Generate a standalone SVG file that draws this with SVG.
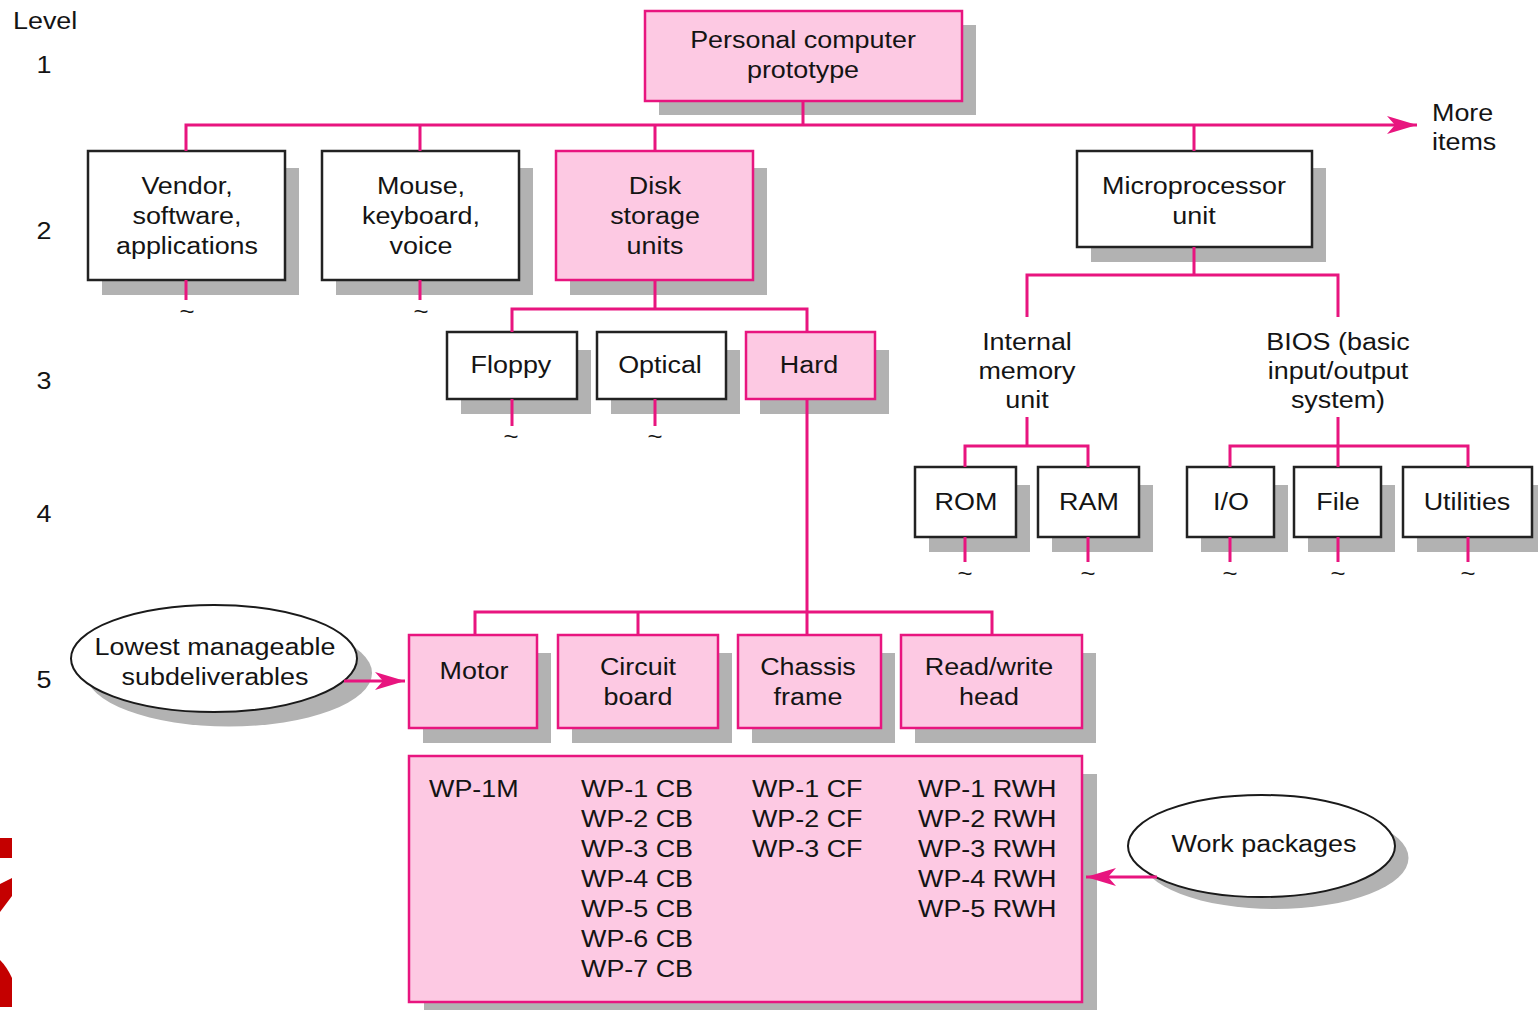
<svg xmlns="http://www.w3.org/2000/svg" width="1538" height="1010" viewBox="0 0 1538 1010">
<style>
.sh{fill:#b2b2b2}
.w{fill:#ffffff;stroke:#222222;stroke-width:2.5}
.p{fill:#fdc9e3;stroke:#e8157f;stroke-width:2.5}
.el{fill:#ffffff;stroke:#1a1a1a;stroke-width:2}
.ln{fill:none;stroke:#e8157f;stroke-width:3}
text{font-family:"Liberation Sans",Arial,Helvetica,sans-serif;font-size:23px;fill:#141414;text-anchor:middle;transform-box:fill-box;transform-origin:center;transform:scaleX(1.17)}
text.l{text-anchor:start;transform-origin:left center}
text.tl{font-size:22px}
</style>
<defs>
<marker id="arr" markerUnits="userSpaceOnUse" viewBox="0 0 30 18" refX="30" refY="9" markerWidth="30" markerHeight="18" orient="auto">
<path d="M0,0 L30,9 L0,18 L8,9 Z" fill="#e8157f"/>
</marker>
</defs>
<rect width="1538" height="1010" fill="#ffffff"/>

<g id="levels">
<text class="l" x="13" y="29">Level</text>
<text x="44" y="73">1</text>
<text x="44" y="239">2</text>
<text x="44" y="389">3</text>
<text x="44" y="522">4</text>
<text x="44" y="688">5</text>
</g>

<g id="logo-fragment" fill="#c40000">
<rect x="0" y="838" width="12" height="20"/>
<path d="M0,884 L12,878 L12,896 Q6,904 0,912 Z"/>
<path d="M0,960 Q7,967 12,978 L12,1007 L0,1007 Z"/>
</g>

<g id="tildes">
<text class="tl" x="187" y="319">~</text>
<text class="tl" x="421" y="319">~</text>
<text class="tl" x="511" y="444">~</text>
<text class="tl" x="655" y="444">~</text>
<text class="tl" x="965" y="581">~</text>
<text class="tl" x="1088" y="581">~</text>
<text class="tl" x="1230" y="581">~</text>
<text class="tl" x="1338" y="581">~</text>
<text class="tl" x="1468" y="581">~</text>
</g>

<g id="more-items">
<text class="l" x="1432" y="121">More</text>
<text class="l" x="1432" y="150">items</text>
</g>

<g id="n-pc">
<rect class="sh" x="659" y="25" width="317" height="90"/>
<rect class="p" x="645" y="11" width="317" height="90"/>
<text x="803" y="48">Personal computer</text>
<text x="803" y="78">prototype</text>
</g>

<g id="n-vendor">
<rect class="sh" x="102" y="168" width="197" height="127"/>
<rect class="w" x="88" y="151" width="197" height="129"/>
<text x="187" y="194">Vendor,</text>
<text x="187" y="224">software,</text>
<text x="187" y="254">applications</text>
</g>

<g id="n-mouse">
<rect class="sh" x="336" y="168" width="197" height="127"/>
<rect class="w" x="322" y="151" width="197" height="129"/>
<text x="421" y="194">Mouse,</text>
<text x="421" y="224">keyboard,</text>
<text x="421" y="254">voice</text>
</g>

<g id="n-disk">
<rect class="sh" x="570" y="168" width="197" height="127"/>
<rect class="p" x="556" y="151" width="197" height="129"/>
<text x="655" y="194">Disk</text>
<text x="655" y="224">storage</text>
<text x="655" y="254">units</text>
</g>

<g id="n-micro">
<rect class="sh" x="1091" y="168" width="235" height="94"/>
<rect class="w" x="1077" y="151" width="235" height="96"/>
<text x="1194" y="194">Microprocessor</text>
<text x="1194" y="224">unit</text>
</g>

<g id="n-floppy">
<rect class="sh" x="461" y="350" width="130" height="64"/>
<rect class="w" x="447" y="332" width="130" height="67"/>
<text x="511" y="373">Floppy</text>
</g>

<g id="n-optical">
<rect class="sh" x="611" y="350" width="129" height="64"/>
<rect class="w" x="597" y="332" width="129" height="67"/>
<text x="660" y="373">Optical</text>
</g>

<g id="n-hard">
<rect class="sh" x="760" y="350" width="129" height="64"/>
<rect class="p" x="746" y="332" width="129" height="67"/>
<text x="809" y="373">Hard</text>
</g>

<g id="n-internal">
<text x="1027" y="350">Internal</text>
<text x="1027" y="379">memory</text>
<text x="1027" y="408">unit</text>
</g>

<g id="n-bios">
<text x="1338" y="350">BIOS (basic</text>
<text x="1338" y="379">input/output</text>
<text x="1338" y="408">system)</text>
</g>

<g id="n-rom">
<rect class="sh" x="929" y="485" width="101" height="67"/>
<rect class="w" x="915" y="467" width="101" height="70"/>
<text x="966" y="510">ROM</text>
</g>

<g id="n-ram">
<rect class="sh" x="1052" y="485" width="101" height="67"/>
<rect class="w" x="1038" y="467" width="101" height="70"/>
<text x="1089" y="510">RAM</text>
</g>

<g id="n-io">
<rect class="sh" x="1201" y="485" width="87" height="67"/>
<rect class="w" x="1187" y="467" width="87" height="70"/>
<text x="1231" y="510">I/O</text>
</g>

<g id="n-file">
<rect class="sh" x="1308" y="485" width="87" height="67"/>
<rect class="w" x="1294" y="467" width="87" height="70"/>
<text x="1338" y="510">File</text>
</g>

<g id="n-utilities">
<rect class="sh" x="1417" y="485" width="129" height="67"/>
<rect class="w" x="1403" y="467" width="129" height="70"/>
<text x="1467" y="510">Utilities</text>
</g>

<g id="n-motor">
<rect class="sh" x="423" y="653" width="128" height="90"/>
<rect class="p" x="409" y="635" width="128" height="93"/>
<text x="474" y="679">Motor</text>
</g>

<g id="n-circuit">
<rect class="sh" x="572" y="653" width="160" height="90"/>
<rect class="p" x="558" y="635" width="160" height="93"/>
<text x="638" y="675">Circuit</text>
<text x="638" y="705">board</text>
</g>

<g id="n-chassis">
<rect class="sh" x="752" y="653" width="143" height="90"/>
<rect class="p" x="738" y="635" width="143" height="93"/>
<text x="808" y="675">Chassis</text>
<text x="808" y="705">frame</text>
</g>

<g id="n-rwhead">
<rect class="sh" x="915" y="653" width="181" height="90"/>
<rect class="p" x="901" y="635" width="181" height="93"/>
<text x="989" y="675">Read/write</text>
<text x="989" y="705">head</text>
</g>

<g id="n-workpackages-box">
<rect class="sh" x="424" y="774" width="673" height="246"/>
<rect class="p" x="409" y="756" width="673" height="246"/>
<text class="l" x="429" y="797">WP-1M</text>
<text class="l" x="581" y="797">WP-1 CB</text>
<text class="l" x="581" y="827">WP-2 CB</text>
<text class="l" x="581" y="857">WP-3 CB</text>
<text class="l" x="581" y="887">WP-4 CB</text>
<text class="l" x="581" y="917">WP-5 CB</text>
<text class="l" x="581" y="947">WP-6 CB</text>
<text class="l" x="581" y="977">WP-7 CB</text>
<text class="l" x="752" y="797">WP-1 CF</text>
<text class="l" x="752" y="827">WP-2 CF</text>
<text class="l" x="752" y="857">WP-3 CF</text>
<text class="l" x="918" y="797">WP-1 RWH</text>
<text class="l" x="918" y="827">WP-2 RWH</text>
<text class="l" x="918" y="857">WP-3 RWH</text>
<text class="l" x="918" y="887">WP-4 RWH</text>
<text class="l" x="918" y="917">WP-5 RWH</text>
</g>

<g id="n-lowest">
<ellipse class="sh" cx="229" cy="673" rx="143" ry="53.5"/>
<ellipse class="el" cx="214" cy="658.5" rx="143" ry="53.5"/>
<text x="215" y="655">Lowest manageable</text>
<text x="215" y="685">subdeliverables</text>
</g>

<g id="n-work">
<ellipse class="sh" cx="1275" cy="858" rx="133.5" ry="51"/>
<ellipse class="el" cx="1261.5" cy="846" rx="133.5" ry="51"/>
<text x="1264" y="852">Work packages</text>
</g>

<g id="connectors">
<path class="ln" d="M803,101 V125"/>
<path class="ln" d="M186,151 V125 H1417" marker-end="url(#arr)"/>
<path class="ln" d="M420,151 V125 M655,151 V125 M1194,151 V125"/>
<path class="ln" d="M186,280 V300 M420,280 V300"/>
<path class="ln" d="M655,280 V309 M512,332 V309 H807 V332"/>
<path class="ln" d="M512,399 V426 M655,399 V426"/>
<path class="ln" d="M1194,247 V275 M1027,317 V275 H1338 V317"/>
<path class="ln" d="M1027,417 V446 M965,467 V446 H1088 V467"/>
<path class="ln" d="M1338,417 V467 M1230,467 V446 H1468 V467"/>
<path class="ln" d="M965,537 V562 M1088,537 V562 M1230,537 V562 M1338,537 V562 M1468,537 V562"/>
<path class="ln" d="M807,399 V635 M475,635 V612 H992 V635 M638,612 V635"/>
<path class="ln" d="M344,681 H405" marker-end="url(#arr)"/>
<path class="ln" d="M1157,877 H1086" marker-end="url(#arr)"/>
</g>
</svg>
